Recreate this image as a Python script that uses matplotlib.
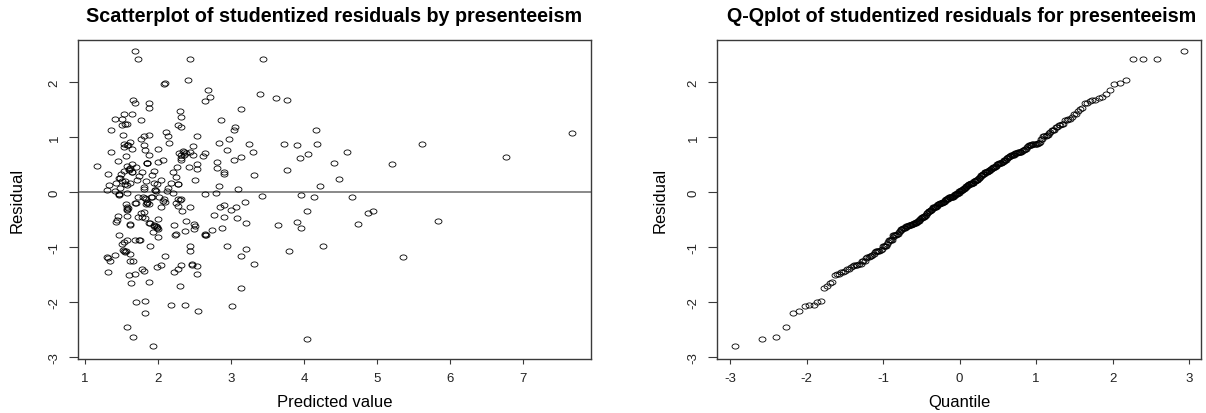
import numpy as np
import matplotlib
matplotlib.use("Agg")
import matplotlib.pyplot as plt
from matplotlib.path import Path
from statistics import NormalDist

plt.rcParams["font.family"] = ["Liberation Sans", "DejaVu Sans"]
plt.rcParams["axes.unicode_minus"] = False

# predicted value and studentized residual for each respondent
predicted = [
    1.68, 1.73, 2.44, 3.44, 2.41, 2.08, 2.09, 2.69, 2.71, 2.65, 3.39, 3.62, 3.77, 1.66,
    1.69, 1.88, 1.88, 3.13, 2.30, 2.31, 1.54, 1.64, 1.41, 1.50, 1.77, 2.86, 1.57, 1.55,
    1.50, 2.28, 2.32, 3.05, 3.04, 1.35, 4.16, 7.67, 2.11, 2.13, 1.81, 1.87, 1.52, 2.54,
    2.97, 1.77, 2.84, 2.15, 1.62, 3.25, 3.73, 3.91, 4.18, 5.61, 1.54, 1.59, 1.81, 2.48,
    1.54, 1.64, 1.82, 2.00, 2.34, 2.44, 2.95, 1.36, 3.30, 4.59, 2.29, 2.38, 4.06, 2.64,
    2.61, 2.35, 2.48, 1.88, 1.56, 6.77, 3.13, 3.94, 2.32, 2.32, 3.04, 2.07, 1.45, 2.81,
    2.00, 1.85, 1.85, 4.41, 5.21, 2.54, 1.64, 1.85, 2.31, 1.58, 2.36,
    1.17, 2.42, 1.58, 1.70, 2.26, 2.81, 1.60, 2.54, 3.76, 1.95, 1.54, 1.64, 1.78, 2.20,
    2.91, 2.91, 1.49, 1.32, 1.92, 3.31, 1.74, 2.25, 1.47, 4.48, 2.50, 1.71, 2.04, 1.50,
    1.83, 1.95, 1.42, 2.18, 2.28, 1.61, 1.99, 1.33, 1.55, 4.22, 2.83, 1.81, 2.14, 1.48,
    3.09, 1.81, 1.30, 1.96, 1.97, 2.12, 1.41, 1.60, 1.62, 1.55, 1.96, 2.27, 1.65, 1.48,
    1.57,
    2.20, 1.57, 1.46, 1.47, 2.80, 2.64, 3.42, 3.96, 4.13, 4.66, 1.80, 1.73, 1.90, 2.01,
    2.08, 2.27, 2.31, 1.83, 2.07, 2.09, 3.19, 1.69, 1.85, 2.24, 1.88, 1.56, 1.84, 2.90,
    2.85, 3.07, 2.27, 2.44, 2.04, 1.58, 1.57, 3.00, 2.33, 4.04, 1.81, 4.95, 4.87, 1.76,
    2.76, 1.45, 1.57, 2.90, 1.72, 1.78, 3.08, 1.82, 2.00, 1.58, 1.59, 1.46, 1.85, 1.82,
    2.30, 1.92, 1.70,
    2.38, 5.84, 1.42, 3.91, 1.89, 3.20, 1.61, 2.49, 2.22, 3.65, 4.74, 1.94, 1.97, 1.99,
    2.87, 3.96, 2.49, 2.74, 2.37, 1.93, 1.47, 2.64, 2.66, 2.23, 2.00, 1.57, 1.68, 1.75,
    1.51, 2.44, 1.89, 2.94, 4.26, 1.95, 1.98, 2.65, 1.54, 1.44, 1.62, 2.50, 1.88, 2.00,
    1.74, 2.24,
    3.20, 1.52, 1.54, 1.56, 2.44, 3.79, 1.62, 2.09, 3.13, 1.30, 1.41, 5.36, 1.34, 1.62,
    1.66, 3.31, 2.32, 2.47, 2.54, 1.98, 2.04, 1.78, 1.81, 2.27, 2.22, 1.32, 2.54, 1.60,
    1.68, 1.88, 1.63, 2.30, 3.13, 1.70, 1.82, 2.18, 2.37, 3.01, 2.55, 1.82, 1.57, 1.66,
    4.04, 1.93, 1.55, 1.31, 2.46,
]
residual = [
    2.56, 2.41, 2.41, 2.42, 2.04, 1.96, 1.98, 1.86, 1.72, 1.65, 1.78, 1.71, 1.67, 1.68,
    1.62, 1.62, 1.52, 1.50, 1.48, 1.37, 1.42, 1.41, 1.33, 1.32, 1.30, 1.30, 1.24, 1.24,
    1.22, 1.21, 1.18, 1.18, 1.13, 1.12, 1.12, 1.08, 1.09, 1.02, 1.02, 1.03, 1.04, 1.02,
    0.96, 0.97, 0.89, 0.89, 0.90, 0.88, 0.88, 0.85, 0.87, 0.87, 0.87, 0.85, 0.85, 0.83,
    0.81, 0.79, 0.76, 0.79, 0.75, 0.73, 0.76, 0.72, 0.72, 0.72, 0.70, 0.70, 0.69, 0.70,
    0.66, 0.67, 0.67, 0.67, 0.65, 0.64, 0.63, 0.62, 0.61, 0.58, 0.59, 0.59, 0.56, 0.55,
    0.54, 0.53, 0.52, 0.52, 0.50, 0.51, 0.50, 0.52, 0.68, 0.86, 0.72,
    0.48, 0.45, 0.47, 0.46, 0.46, 0.44, 0.42, 0.41, 0.39, 0.38, 0.38, 0.36, 0.37, 0.36,
    0.36, 0.33, 0.33, 0.32, 0.31, 0.30, 0.29, 0.27, 0.25, 0.23, 0.22, 0.21, 0.21, 0.19,
    0.19, 0.17, 0.16, 0.16, 0.15, 0.16, 0.15, 0.13, 0.14, 0.10, 0.10, 0.09, 0.07, 0.08,
    0.05, 0.05, 0.04, 0.03, 0.02, 0.01, 0.01, 0.40, 0.44, 0.20, 0.04, 0.14, 0.36, 0.25,
    0.12,
    -0.02, -0.02, -0.04, -0.04, -0.02, -0.04, -0.07, -0.06, -0.10, -0.10, -0.10, -0.10,
    -0.10, -0.10, -0.12, -0.12, -0.13, -0.13, -0.16, -0.18, -0.19, -0.20, -0.19, -0.21,
    -0.22, -0.22, -0.22, -0.24, -0.27, -0.27, -0.26, -0.28, -0.28, -0.28, -0.31, -0.32,
    -0.35, -0.34, -0.36, -0.35, -0.39, -0.38, -0.42, -0.43, -0.43, -0.45, -0.45, -0.45,
    -0.47, -0.48, -0.50, -0.33, -0.29, -0.05, -0.21, -0.11, -0.14, -0.10, -0.21,
    -0.52, -0.52, -0.55, -0.55, -0.56, -0.56, -0.58, -0.58, -0.60, -0.60, -0.59, -0.60,
    -0.62, -0.64, -0.65, -0.65, -0.67, -0.69, -0.72, -0.73, -0.78, -0.78, -0.78, -0.79,
    -0.82, -0.87, -0.88, -0.88, -0.94, -0.99, -0.99, -0.98, -0.99, -0.62, -0.66, -0.77,
    -0.92, -0.51, -0.60, -0.62, -0.57, -0.68, -0.88, -0.77,
    -1.03, -1.05, -1.08, -1.08, -1.08, -1.08, -1.13, -1.16, -1.17, -1.18, -1.15, -1.19,
    -1.25, -1.25, -1.25, -1.32, -1.33, -1.33, -1.35, -1.36, -1.33, -1.41, -1.43, -1.41,
    -1.45, -1.45, -1.50, -1.52, -1.50, -1.64, -1.65, -1.72, -1.75, -2.00, -1.99, -2.05,
    -2.05, -2.07, -2.16, -2.21, -2.46, -2.64, -2.67, -2.80, -1.10, -1.21, -1.31,
]

# theoretical normal quantiles for the sorted residuals (R's ppoints)
n = len(residual)
sorted_residual = np.sort(residual)
probs = (np.arange(1, n + 1) - 0.5) / n
quantiles = np.array([NormalDist().inv_cdf(p) for p in probs])

W, H = 1206, 414
fig = plt.figure(figsize=(W / 100, H / 100), dpi=100)


def px_axes(left, top, right, bottom):
    return fig.add_axes([left / W, 1 - bottom / H, (right - left) / W, (bottom - top) / H])


ax1 = px_axes(78, 40.7, 591, 360)
ax2 = px_axes(717, 40.7, 1200.7, 360)

# open circle, a little wider than tall
t = np.linspace(0, 2 * np.pi, 41)
ring = Path(np.column_stack([np.cos(t), 0.74 * np.sin(t)]))
pt = dict(linestyle="none", marker=ring, ms=5.0, mfc="none", mec="black", mew=0.6)


def style(ax, xticks, xlim):
    ax.set_xlim(xlim)
    ax.set_ylim(-3.04, 2.77)
    ax.set_xticks(xticks)
    ax.set_yticks(range(-3, 3))
    for s in ax.spines.values():
        s.set_color("#3a3a3a")
        s.set_linewidth(1.0)
    ax.tick_params(axis="x", length=3.6, width=0.8, pad=6, labelsize=9.5,
                   color="#3a3a3a", labelcolor="#222222")
    ax.tick_params(axis="y", length=6.5, width=0.8, pad=6, labelsize=9.5,
                   color="#3a3a3a", labelcolor="#222222")
    for lab in ax.get_yticklabels():
        lab.set_rotation(90)
        lab.set_va("center")


ax1.plot(predicted, residual, **pt)
ax1.axhline(0, color="#808080", lw=1.3, zorder=0)
style(ax1, range(1, 8), (0.904, 7.93))

ax2.plot(quantiles, sorted_residual, **pt)
style(ax2, range(-3, 4), (-3.17, 3.15))

fig.text(334.5 / W, 1 - 16 / H, "Scatterplot of studentized residuals by presenteeism",
         ha="center", va="center", fontsize=14.2, fontweight="bold")
fig.text(962 / W, 1 - 16 / H, "Q-Qplot of studentized residuals for presenteeism",
         ha="center", va="center", fontsize=14.2, fontweight="bold")
fig.text(334.5 / W, 1 - 403 / H, "Predicted value", ha="center", va="center", fontsize=12)
fig.text(959 / W, 1 - 403 / H, "Quantile", ha="center", va="center", fontsize=12)
fig.text(17 / W, 1 - 200 / H, "Residual", ha="center", va="center", rotation=90, fontsize=12)
fig.text(660 / W, 1 - 200 / H, "Residual", ha="center", va="center", rotation=90, fontsize=12)

fig.savefig("out.png", dpi=100)
